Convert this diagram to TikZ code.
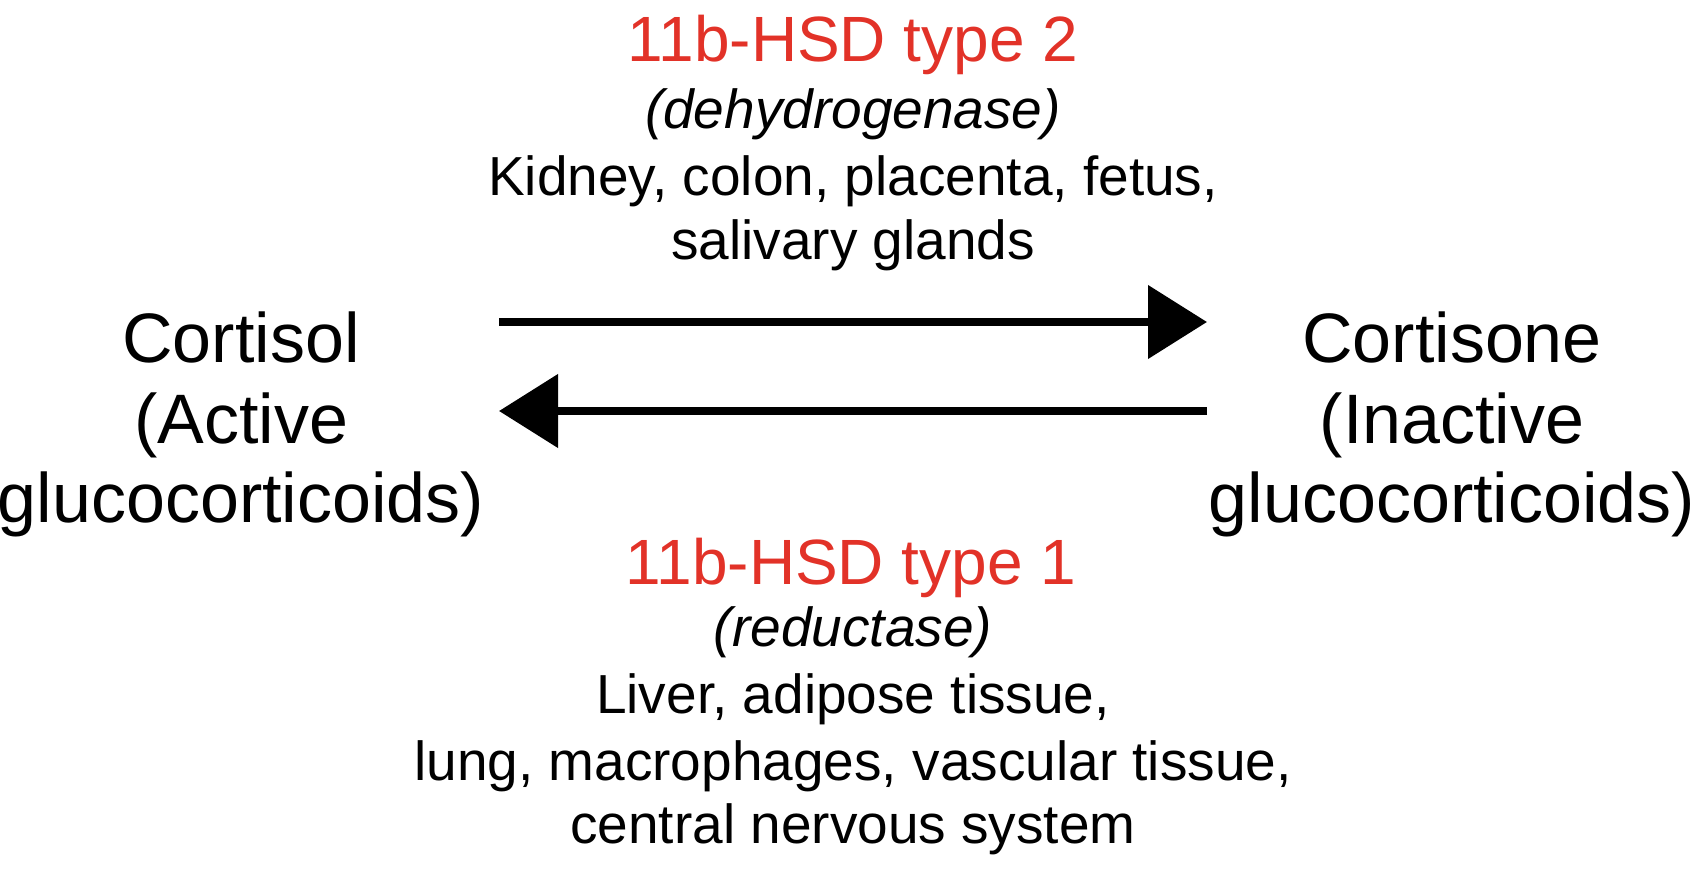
\documentclass[tikz,border=0pt]{standalone}
\usepackage{fontspec}
\setmainfont{Liberation Sans}
\usetikzlibrary{arrows.meta}
\definecolor{hsdred}{RGB}{226,50,40}
\begin{document}
\begin{tikzpicture}[x=0.5pt,y=-0.5pt,
  big/.style={font=\fontsize{35}{40}\selectfont, inner sep=0pt, anchor=base},
  body/.style={font=\fontsize{27.5}{32}\selectfont, inner sep=0pt, anchor=base},
  enz/.style={font=\fontsize{32}{36}\selectfont, text=hsdred, inner sep=0pt, anchor=base},
  rxn/.style={line width=4pt, -{Triangle[length=29.5pt,width=36pt]}}]
\useasboundingbox (0,0) rectangle (1695,872);
% left compound
\node[big] (l1) at (241,362) {Cortisol};
\node[big] (l2) at (241,443) {(Active};
\node[big] (l3) at (241,522) {glucocorticoids)};
% right compound
\node[big] (r1) at (1452,362) {Cortisone};
\node[big] (r2) at (1452,443) {(Inactive};
\node[big] (r3) at (1452,522) {glucocorticoids)};
% top enzyme
\node[enz] (e2) at (853,62) {11b-HSD type 2};
\node[body] (e2a) at (853,128) {\itshape (dehydrogenase)};
\node[body] (e2b) at (853,195) {Kidney, colon, placenta, fetus,};
\node[body] (e2c) at (853,259) {salivary glands};
% bottom enzyme
\node[enz] (e1) at (851,584) {11b-HSD type 1};
\node[body] (e1a) at (853,646) {\itshape (reductase)};
\node[body] (e1b) at (853,713) {Liver, adipose tissue,};
\node[body] (e1c) at (853,780) {lung, macrophages, vascular tissue,};
\node[body] (e1d) at (853,843) {central nervous system};
% arrows
\coordinate (t1) at (499,322);
\coordinate (t2) at (1207,322);
\coordinate (b1) at (1207,411);
\coordinate (b2) at (499,411);
\draw[rxn] (t1) -- (t2);
\draw[rxn] (b1) -- (b2);
\end{tikzpicture}
\end{document}
